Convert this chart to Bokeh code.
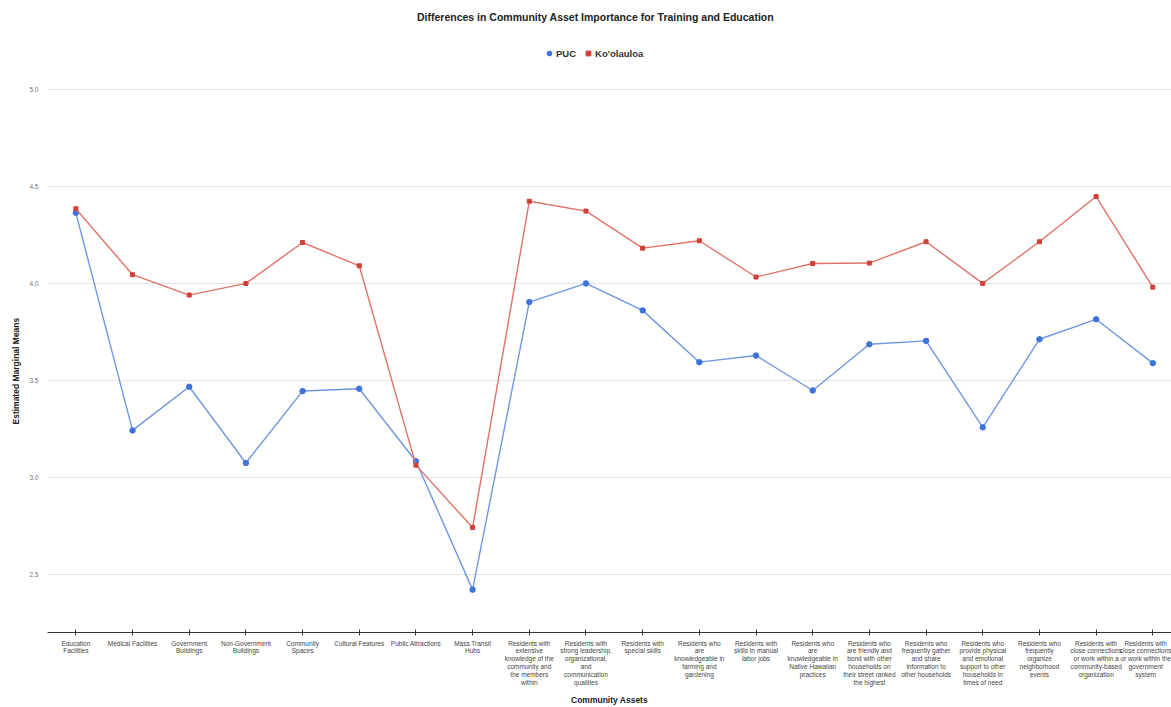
from bokeh.plotting import figure
from bokeh.models import (ColumnDataSource, FixedTicker, Legend, LegendItem, Label,
                          Range1d, Title)
from bokeh.embed import file_html
from bokeh.resources import INLINE

categories = [
    "Education\nFacilities",
    "Medical Facilities",
    "Government\nBuildings",
    "Non-Government\nBuildings",
    "Community\nSpaces",
    "Cultural Features",
    "Public Attractions",
    "Mass Transit\nHubs",
    "Residents with\nextensive\nknowledge of the\ncommunity and\nthe members\nwithin",
    "Residents with\nstrong leadership,\norganizational,\nand\ncommunication\nqualities",
    "Residents with\nspecial skills",
    "Residents who\nare\nknowledgeable in\nfarming and\ngardening",
    "Residents with\nskills in manual\nlabor jobs",
    "Residents who\nare\nknowledgeable in\nNative Hawaiian\npractices",
    "Residents who\nare friendly and\nbond with other\nhouseholds on\ntheir street ranked\nthe highest",
    "Residents who\nfrequently gather\nand share\ninformation to\nother households",
    "Residents who\nprovide physical\nand emotional\nsupport to other\nhouseholds in\ntimes of need",
    "Residents who\nfrequently\norganize\nneighborhood\nevents",
    "Residents with\nclose connections\nor work within a\ncommunity-based\norganization",
    "Residents with\nclose connections\nor work within the\ngovernment\nsystem",
]

puc = [4.364, 3.242, 3.467, 3.074, 3.445, 3.457, 3.083, 2.421, 3.904, 4.000,
       3.861, 3.594, 3.628, 3.448, 3.686, 3.704, 3.258, 3.712, 3.815, 3.589]

koolauloa = [4.385, 4.045, 3.940, 4.000, 4.211, 4.091, 3.063, 2.741, 4.424, 4.373,
             4.182, 4.220, 4.033, 4.103, 4.105, 4.215, 4.000, 4.215, 4.448, 3.981]

y_ticks = [2.5, 3.0, 3.5, 4.0, 4.5, 5.0]
y_tick_labels = ["2.5", "3.0", "3.5", "4.0", "4.5", "5.0"]

title_text = "Differences in Community Asset Importance for Training and Education"
x_title = "Community Assets"
y_title = "Estimated Marginal Means"
series_names = ["PUC", "Ko'olauloa"]

FONT = "Liberation Sans"
BLUE_LINE = "#6f96e2"
BLUE_PT = "#3f73dc"
RED_LINE = "#e07269"
RED_PT = "#d23f36"

# layout (pixels)
W, H = 1171, 707
FRAME_LEFT = 47
FRAME_BOTTOM_PX = 632        # canvas y of the x axis line
TOP_GRID_PX = 89             # canvas y of the 5.0 gridline
Y_MIN, Y_TOP_GRID = 2.2, 5.0
ppu = (FRAME_BOTTOM_PX - TOP_GRID_PX) / (Y_TOP_GRID - Y_MIN)
Y_MAX = Y_TOP_GRID + TOP_GRID_PX / ppu

xs = list(range(len(categories)))
src = ColumnDataSource(dict(x=xs, puc=puc, koo=koolauloa))

p = figure(width=W, height=H, output_backend="svg", toolbar_location=None,
           title_location=None,
           x_range=Range1d(-0.5, 19.33), y_range=Range1d(Y_MIN, Y_MAX),
           min_border_left=FRAME_LEFT, min_border_right=0, min_border_top=0,
           min_border_bottom=H - FRAME_BOTTOM_PX)
p.outline_line_color = None
p.background_fill_color = "white"
p.border_fill_color = "white"

p.xgrid.visible = False
p.ygrid.grid_line_color = "#e4e4e4"
p.ygrid.grid_line_width = 1

# x axis
p.xaxis.ticker = FixedTicker(ticks=xs)
p.xaxis.major_label_overrides = {i: c for i, c in enumerate(categories)}
p.xaxis.major_label_text_font = FONT
p.xaxis.major_label_text_font_size = "6.5px"
p.xaxis.major_label_text_color = "#444444"
p.xaxis.major_label_text_line_height = 1.12
p.xaxis.major_label_standoff = 4
p.xaxis.axis_line_color = "#333333"
p.xaxis.axis_line_width = 1
p.xaxis.major_tick_line_color = "#333333"
p.xaxis.major_tick_in = 3
p.xaxis.major_tick_out = 3
p.xaxis.minor_tick_line_color = None
p.xaxis.axis_label = x_title
p.xaxis.axis_label_text_font = FONT
p.xaxis.axis_label_text_font_size = "8.5px"
p.xaxis.axis_label_text_font_style = "bold"
p.xaxis.axis_label_text_color = "#222222"
p.xaxis.axis_label_standoff = 6

# y axis
p.yaxis.ticker = FixedTicker(ticks=y_ticks)
p.yaxis.major_label_overrides = {t: l for t, l in zip(y_ticks, y_tick_labels)}
p.yaxis.major_label_text_font = FONT
p.yaxis.major_label_text_font_size = "6.5px"
p.yaxis.major_label_text_color = "#757575"
p.yaxis.major_label_standoff = 3
p.yaxis.axis_line_color = None
p.yaxis.major_tick_line_color = None
p.yaxis.minor_tick_line_color = None

ytitle = Title(text=y_title, align="left", offset=208, standoff=12,
               text_font=FONT, text_font_size="8.5px", text_font_style="bold",
               text_color="#222222")
p.add_layout(ytitle, "left")

# series
p.line("x", "puc", source=src, line_color=BLUE_LINE, line_width=1.4)
r_puc = p.scatter("x", "puc", source=src, marker="circle", size=5.5,
                  fill_color=BLUE_PT, line_color=BLUE_PT)
p.line("x", "koo", source=src, line_color=RED_LINE, line_width=1.4)
r_koo = p.scatter("x", "koo", source=src, marker="square", size=4,
                  fill_color=RED_PT, line_color=RED_PT)

legend = Legend(items=[LegendItem(label=series_names[0], renderers=[r_puc]),
                       LegendItem(label=series_names[1], renderers=[r_koo])],
                orientation="horizontal",
                location=(543 - FRAME_LEFT, FRAME_BOTTOM_PX - 59),
                border_line_color=None, background_fill_alpha=0,
                label_text_font=FONT, label_text_font_size="9.5px",
                label_text_font_style="bold", label_text_color="#333333",
                glyph_width=12, glyph_height=12, label_standoff=1, spacing=6,
                padding=0, margin=0, label_height=12)
p.add_layout(legend, "center")

# chart title (inside the extended frame area above the top gridline)
title = Label(x=595 - FRAME_LEFT, y=FRAME_BOTTOM_PX - 16, x_units="screen",
              y_units="screen", text=title_text, text_align="center",
              text_baseline="middle", text_font=FONT, text_font_size="10.5px",
              text_font_style="bold", text_color="#222222")
p.add_layout(title)

open("out.html", "w").write(file_html(p, INLINE))
